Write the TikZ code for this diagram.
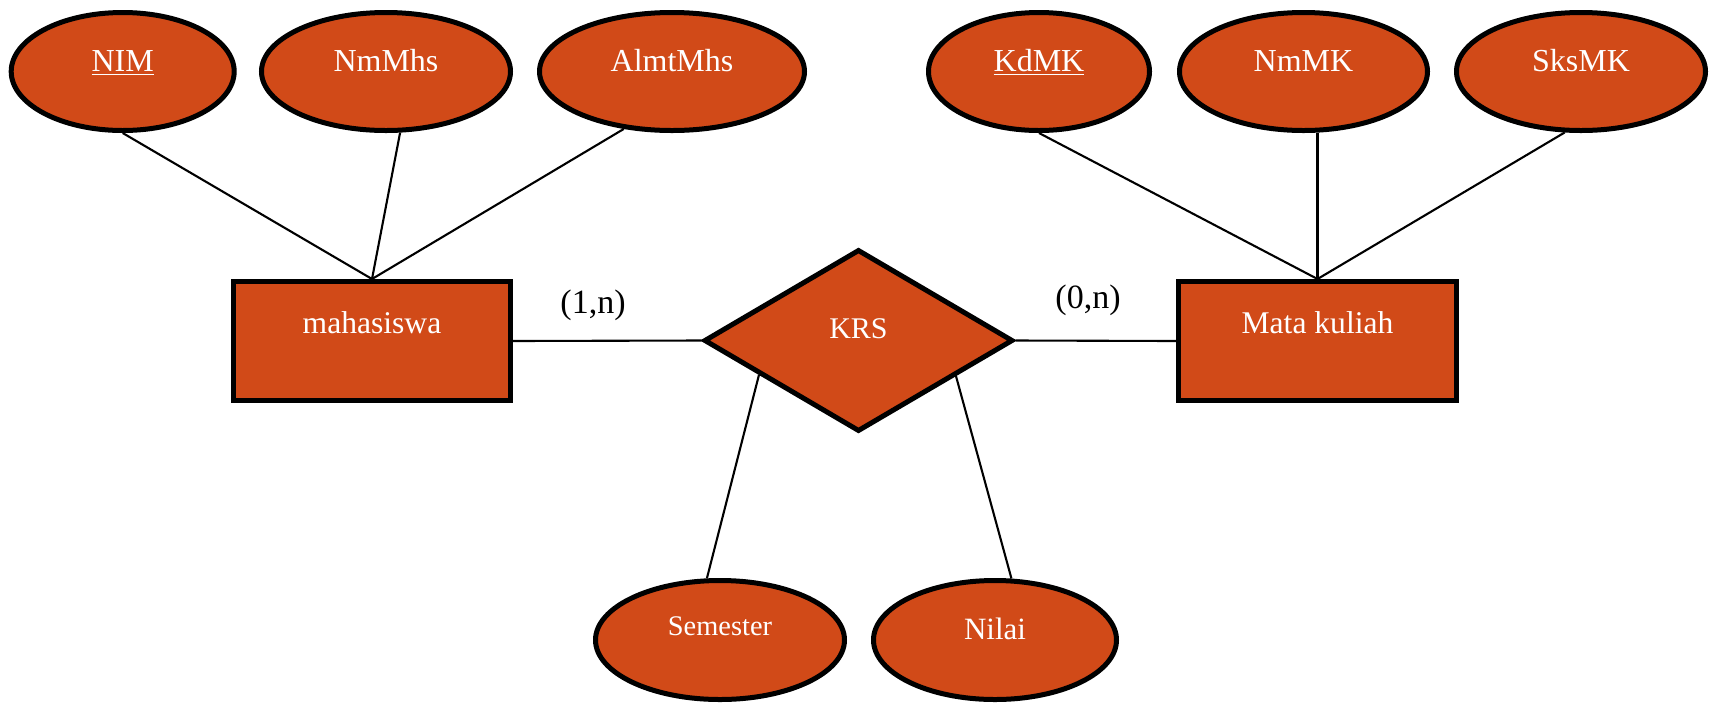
\documentclass[tikz,border=0pt]{standalone}
\usepackage{fontspec}
\setmainfont{Liberation Serif}
\usetikzlibrary{shapes.geometric}
\definecolor{erfill}{RGB}{209,74,24}
\begin{document}
\begin{tikzpicture}[x=0.5pt,y=-0.5pt,
  shapebase/.style={draw=black, line width=2.5pt, fill=erfill, text=white,
    inner sep=0pt, text height=0pt, text depth=0pt},
  attr/.style={shapebase, ellipse, minimum height=59pt,
    font=\fontsize{16}{16}\selectfont},
  entity/.style={shapebase, rectangle, minimum width=138.5pt, minimum height=59.5pt,
    text depth=8pt, font=\fontsize{15.8}{16}\selectfont},
  relation/.style={shapebase, diamond, minimum width=154.5pt, minimum height=91pt,
    text depth=2.5pt, font=\fontsize{15}{15}\selectfont},
  card/.style={text=black, inner sep=0pt, font=\fontsize{17}{17}\selectfont},
  link/.style={draw=black, line width=1.05pt}]
\useasboundingbox (0,0) rectangle (1715,703);

% entities and relationship
\node[entity] (mhs) at (372,341) {mahasiswa};
\node[entity, minimum width=139pt] (mk) at (1317.5,341) {Mata kuliah};
\node[relation] (krs) at (858.5,340.5) {KRS};

% attributes of mahasiswa
\node[attr, minimum width=111.5pt] (nim) at (122.7,71.5) {\underline{NIM}};
\node[attr, minimum width=124.5pt] (nmmhs) at (386,71.5) {NmMhs};
\node[attr, minimum width=132.5pt] (almt) at (672,71.5) {AlmtMhs};

% attributes of Mata kuliah
\node[attr, minimum width=110.5pt] (kdmk) at (1039,71.5) {\underline{KdMK}};
\node[attr, minimum width=124pt] (nmmk) at (1303.5,71.5) {NmMK};
\node[attr, minimum width=124.5pt] (sksmk) at (1581,71.5) {SksMK};

% attributes of KRS
\node[attr, minimum width=124.5pt, minimum height=59.5pt, text depth=5pt,
  font=\fontsize{14.2}{14}\selectfont] (sem) at (720,640) {Semester};
\node[attr, minimum width=121.5pt, minimum height=59.5pt, text depth=1pt,
  font=\fontsize{15.5}{15}\selectfont] (nilai) at (995,640) {Nilai};

% cardinalities
\node[card] (c1) at (593,305) {(1,n)};
\node[card] (c2) at (1088,300) {(0,n)};

% connectors
\draw[link] (nim.south) -- (mhs.north);
\draw[link] (nmmhs.-77) -- (mhs.north);
\draw[link] (almt.230) -- (mhs.north);
\draw[link] (kdmk.south) -- (mk.north);
\draw[link] (mk.north |- nmmk.south) -- (mk.north);
\draw[link] (sksmk.255) -- (mk.north);
\draw[link] (mhs.east) -- (krs.west);
\draw[link] (krs.east) -- (mk.west);
\draw[link] (krs.199.3) -- (sem.102.7);
\draw[link] (krs.340.7) -- (nilai.75.5);
\end{tikzpicture}
\end{document}
